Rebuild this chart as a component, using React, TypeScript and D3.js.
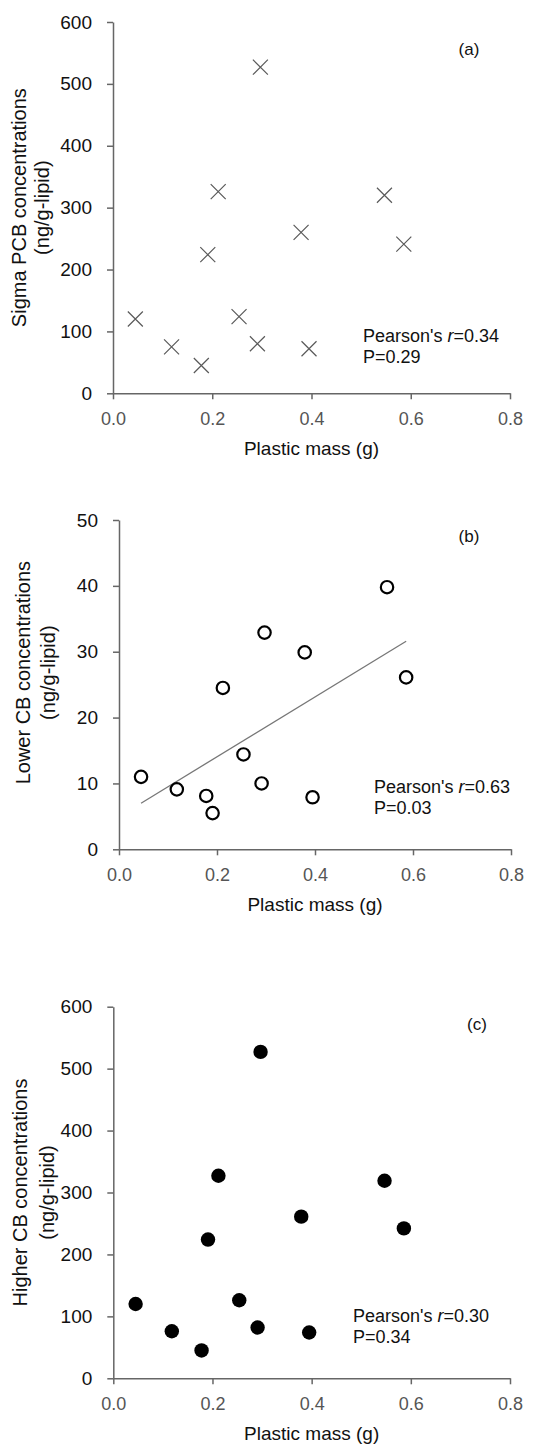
import React, { useEffect, useRef } from 'react';
import * as d3 from 'd3';

// Plastic mass per sample (g), shared by all three panels
const plasticMass = [0.045, 0.118, 0.178, 0.191, 0.212, 0.254, 0.291, 0.297, 0.379, 0.395, 0.547, 0.586];

// Concentrations (ng/g-lipid)
const sigmaPCB = [120, 75, 45, 224, 326, 124, 80, 527, 260, 72, 320, 241];
const lowerCB = [11.0, 9.1, 8.1, 5.5, 24.5, 14.4, 10.0, 32.9, 29.9, 7.9, 39.8, 26.1];
const higherCB = [120, 76, 45, 224, 327, 126, 82, 527, 261, 74, 319, 242];

// Regression line for panel (b)
const trendX = [0.045, 0.586];
const trendY = [7.0, 31.6];

const xTicks = [0, 0.2, 0.4, 0.6, 0.8];
const yTicksBig = [0, 100, 200, 300, 400, 500, 600];
const yTicksSmall = [0, 10, 20, 30, 40, 50];

const pearsonR = ['0.34', '0.63', '0.30'];
const pearsonP = ['0.29', '0.03', '0.34'];

const FONT = 'Arial, "Liberation Sans", sans-serif';
const AXIS = '#666';

const panels = [
    {
        label: '(a)', values: sigmaPCB, marker: 'cross', yMax: 600, yTicks: yTicksBig,
        left: 113, right: 510, top: 22, bottom: 393.3,
        title: ['Sigma PCB concentrations', '(ng/g-lipid)'], titleX: [26, 49], titleShift: 0,
        labelPos: [469, 55], statPos: [363, 341.7],
    },
    {
        label: '(b)', values: lowerCB, marker: 'open', yMax: 50, yTicks: yTicksSmall,
        left: 119, right: 511, top: 520, bottom: 849.3,
        title: ['Lower CB concentrations', '(ng/g-lipid)'], titleX: [29.5, 55], titleShift: -12,
        labelPos: [469, 541.7], statPos: [374, 793.3],
    },
    {
        label: '(c)', values: higherCB, marker: 'filled', yMax: 600, yTicks: yTicksBig,
        left: 113.3, right: 510, top: 1006.7, bottom: 1378.3,
        title: ['Higher CB concentrations', '(ng/g-lipid)'], titleX: [27, 54], titleShift: 0,
        labelPos: [477, 1030], statPos: [353, 1321.7],
    },
];

const App = () => {
    const svgRef = useRef(null);

    useEffect(() => {
        document.body.style.margin = '0';
        const svg = d3.select(svgRef.current);
        svg.selectAll('*').remove();

        panels.forEach((p, pi) => {
            const x = d3.scaleLinear().domain([0, 0.8]).range([p.left, p.right]);
            const y = d3.scaleLinear().domain([0, p.yMax]).range([p.bottom, p.top]);
            const g = svg.append('g');

            // Y axis
            const ya = g.append('g')
                .attr('transform', `translate(${p.left},0)`)
                .call(d3.axisLeft(y).tickValues(p.yTicks).tickSize(6).tickSizeOuter(0).tickPadding(15).tickFormat(d3.format('d')));
            ya.selectAll('path, line').attr('stroke', AXIS).attr('stroke-width', 1.5);
            ya.selectAll('text').attr('font-family', FONT).attr('font-size', 19).attr('fill', '#111');

            // X axis
            const xa = g.append('g')
                .attr('transform', `translate(0,${p.bottom})`)
                .call(d3.axisBottom(x).tickValues(xTicks).tickSize(6).tickSizeOuter(0).tickPadding(13).tickFormat(d3.format('.1f')));
            xa.selectAll('path, line').attr('stroke', AXIS).attr('stroke-width', 1.5);
            xa.selectAll('text').attr('font-family', FONT).attr('font-size', 18).attr('fill', '#555');

            // Axis titles
            g.append('text')
                .attr('x', (p.left + p.right) / 2)
                .attr('y', p.bottom + 62)
                .attr('text-anchor', 'middle')
                .attr('font-family', FONT).attr('font-size', 19).attr('fill', '#111')
                .text('Plastic mass (g)');

            p.title.forEach((t, i) => {
                g.append('text')
                    .attr('transform', `translate(${p.titleX[i]},${(p.top + p.bottom) / 2 + p.titleShift}) rotate(-90)`)
                    .attr('text-anchor', 'middle')
                    .attr('font-family', FONT).attr('font-size', 20).attr('fill', '#111')
                    .text(t);
            });

            // Trend line (panel b only)
            if (p.marker === 'open') {
                const line = d3.line().x(d => x(d[0])).y(d => y(d[1]));
                g.append('path')
                    .datum(d3.zip(trendX, trendY))
                    .attr('d', line)
                    .attr('fill', 'none')
                    .attr('stroke', '#777')
                    .attr('stroke-width', 1.3);
            }

            // Points
            const pts = d3.zip(plasticMass, p.values);
            if (p.marker === 'cross') {
                g.selectAll('.pt').data(pts).enter().append('path')
                    .attr('transform', d => `translate(${x(d[0])},${y(d[1])})`)
                    .attr('d', 'M-7.5,-7.5L7.5,7.5M-7.5,7.5L7.5,-7.5')
                    .attr('stroke', '#5a5a5a')
                    .attr('stroke-width', 1.2)
                    .attr('fill', 'none');
            } else {
                g.selectAll('.pt').data(pts).enter().append('circle')
                    .attr('cx', d => x(d[0]))
                    .attr('cy', d => y(d[1]))
                    .attr('r', p.marker === 'open' ? 6.2 : 7.2)
                    .attr('fill', p.marker === 'open' ? '#fff' : '#000')
                    .attr('stroke', '#000')
                    .attr('stroke-width', p.marker === 'open' ? 2.2 : 0);
            }

            // Panel label
            g.append('text')
                .attr('x', p.labelPos[0])
                .attr('y', p.labelPos[1])
                .attr('text-anchor', 'middle')
                .attr('font-family', FONT).attr('font-size', 17).attr('fill', '#111')
                .text(p.label);

            // Statistics
            const st = g.append('text')
                .attr('x', p.statPos[0])
                .attr('y', p.statPos[1])
                .attr('font-family', FONT).attr('font-size', 18).attr('fill', '#111');
            st.append('tspan').text("Pearson's ");
            st.append('tspan').attr('font-style', 'italic').text('r');
            st.append('tspan').text(`=${pearsonR[pi]}`);
            g.append('text')
                .attr('x', p.statPos[0])
                .attr('y', p.statPos[1] + 21)
                .attr('font-family', FONT).attr('font-size', 18).attr('fill', '#111')
                .text(`P=${pearsonP[pi]}`);
        });
    }, []);

    return (
        <svg ref={svgRef} width="545" height="1446" style={{ display: 'block', background: '#fff' }}></svg>
    );
};

export default App;
